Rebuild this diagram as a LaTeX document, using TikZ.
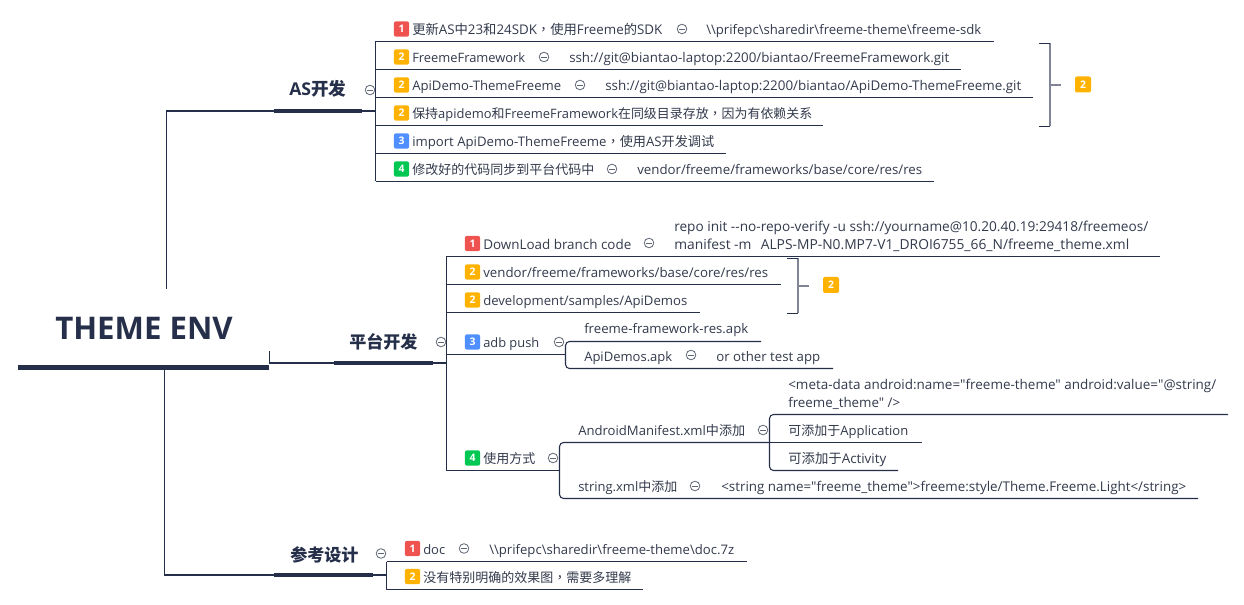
\documentclass[tikz,border=0pt]{standalone}
\usepackage{graphicx}
\usepackage{fontspec}
\newfontfamily\plainfont{Open Sans}
\setmainfont{Open Sans}
\newfontfamily\cjkfont{Noto Sans CJK SC}
\newfontfamily\cjkcomma{Noto Sans CJK TC}
\newcommand{\Z}[1]{{\cjkfont #1}}
\newcommand{\Cm}{{\cjkcomma ，}}
\newcommand{\fw}[2]{\resizebox{\dimexpr#1pt*3/4\relax}{!}{#2}}
\definecolor{ink}{HTML}{252F4A}
\definecolor{txtc}{HTML}{333A4C}
\definecolor{iconc}{HTML}{5F6675}
\definecolor{brk}{HTML}{7F8596}
\definecolor{bred}{HTML}{EF5350}
\definecolor{bora}{HTML}{FFB300}
\definecolor{bblu}{HTML}{4F8FFF}
\definecolor{bgre}{HTML}{00C853}
\tikzset{
  x=0.75pt,y=-0.75pt,
  conn/.style={draw=ink,line width=0.8pt},
  roundconn/.style={conn,rounded corners=3pt},
  brkline/.style={draw=brk,line width=1.5pt},
  bar/.style={draw=none,fill=ink,inner sep=0pt,minimum height=3pt},
  item/.style={anchor=base west,inner sep=0pt,yshift=-0.75pt,text=txtc,font=\plainfont\fontsize{9.6pt}{11pt}\selectfont},
  branch/.style={anchor=base west,inner sep=0pt,yshift=-0.75pt,text=ink,font=\fontsize{12.8pt}{14pt}\selectfont\bfseries},
  rootlabel/.style={anchor=base west,inner sep=0pt,text=ink,font=\fontsize{23.4pt}{25pt}\selectfont\bfseries},
  badgebox/.style={inner sep=0pt,minimum size=11.4pt,rounded corners=1.5pt,text=white,font=\fontsize{7.8pt}{8pt}\selectfont\bfseries},
  bigbadge/.style={badgebox,minimum size=12pt},
  collapse/.style={circle,draw=iconc,line width=0.6pt,inner sep=0pt,minimum size=7.2pt,
    path picture={\draw[iconc,line width=0.6pt] ([xshift=1.6pt]path picture bounding box.west)--([xshift=-1.6pt]path picture bounding box.east);}}
}
\newcommand{\rowline}[4]{\coordinate (#1l) at (#2,#4);\coordinate (#1r) at (#3,#4);\draw[conn] (#1l)--(#1r);}
\newcommand{\brkt}[5]{% name, x left, x right, y top, y bottom; tick to x right + 11
  \coordinate (#1a) at (#2,#4);\coordinate (#1b) at (#3,#4);\coordinate (#1c) at (#3,#5);\coordinate (#1d) at (#2,#5);
  \coordinate (#1m) at (#3,{(#4+#5)/2});\coordinate (#1t) at ({#3+11},{(#4+#5)/2});
  \draw[brkline] (#1b)--(#1c);\draw[brkline] (#1m)--(#1t);\draw[conn] (#1a)--(#1b);\draw[conn] (#1c)--(#1d);}
\begin{document}
\begin{tikzpicture}
\useasboundingbox[fill=white] (0,0) rectangle (1244,605);
% root
\node[rootlabel] (root) at (55,339.5) {THEME ENV};
\node[bar,minimum width=188.25pt,minimum height=3.75pt] (rootbar) at (143.5,367.5) {};
% branch bars
\node[bar,minimum width=66pt] (asbar) at (318,111) {};
\node[bar,minimum width=74.25pt] (ptbar) at (383.5,363) {};
\node[bar,minimum width=74.25pt] (ckbar) at (323.5,575) {};
\node[branch] (aslabel) at (289,95) {\fw{57}{AS\Z{开发}}};
\node[branch] (ptlabel) at (349,348) {\Z{平台开发}};
\node[branch] (cklabel) at (290,560) {\Z{参考设计}};
% root connectors
\coordinate (r1) at (166.5,289);
\draw[conn] (r1)|-(asbar.west);
\coordinate (r2) at (269.5,351);
\draw[conn] (r2)|-(ptbar.west);
\coordinate (r3) at (164.5,370);
\draw[conn] (r3)|-(ckbar.west);
% AS spine
\coordinate (asj) at (375.5,111);
\draw[conn] (asbar.east)--(asj);
\rowline{a1}{375.5}{994}{41.5}
\rowline{a2}{375.5}{961}{69.5}
\rowline{a3}{375.5}{1033}{97.5}
\rowline{a4}{375.5}{823}{125.5}
\rowline{a5}{375.5}{726}{153.5}
\rowline{a6}{375.5}{934}{181.5}
\draw[conn] (a1l)--(a6l);
\node[collapse] (asc) at (370,90) {};
\node[badgebox,fill=bred] (ab1) at (401.5,29) {1};
\node[item] (at1) at (412,34) {\fw{250}{\Z{更新}AS\Z{中}23\Z{和}24SDK\Cm\Z{使用}Freeme\Z{的}SDK}};
\node[collapse] (ac1) at (682,29) {};
\node[item] (at1b) at (706,34) {\fw{275}{\textbackslash\textbackslash prifepc\textbackslash sharedir\textbackslash freeme-theme\textbackslash freeme-sdk}};
\node[badgebox,fill=bora] (ab2) at (401.5,57) {2};
\node[item] (at2) at (412,62) {\fw{113}{FreemeFramework}};
\node[collapse] (ac2) at (544,57) {};
\node[item] (at2b) at (569,62) {\fw{380}{ssh://git@biantao-laptop:2200/biantao/FreemeFramework.git}};
\node[badgebox,fill=bora] (ab3) at (401.5,85) {2};
\node[item] (at3) at (412,90) {\fw{149}{ApiDemo-ThemeFreeme}};
\node[collapse] (ac3) at (580,85) {};
\node[item] (at3b) at (605,90) {\fw{416}{ssh://git@biantao-laptop:2200/biantao/ApiDemo-ThemeFreeme.git}};
\node[badgebox,fill=bora] (ab4) at (401.5,113) {2};
\node[item] (at4) at (412,118) {\fw{400}{\Z{保持}apidemo\Z{和}FreemeFramework\Z{在同级目录存放}\Cm\Z{因为有依赖关系}}};
\node[badgebox,fill=bblu] (ab5) at (401.5,141) {3};
\node[item] (at5) at (412,146) {\fw{302}{import ApiDemo-ThemeFreeme\Cm\Z{使用}AS\Z{开发调试}}};
\node[badgebox,fill=bgre] (ab6) at (401.5,169) {4};
\node[item] (at6) at (412,174) {\fw{182}{\Z{修改好的代码同步到平台代码中}}};
\node[collapse] (ac6) at (612,169) {};
\node[item] (at6b) at (637,174) {\fw{285}{vendor/freeme/frameworks/base/core/res/res}};
\brkt{ab}{1039}{1050}{43.5}{126.5}
\node[bigbadge,fill=bora] (abr) at (1083,84.5) {2};
% platform spine
\coordinate (ptj) at (446.5,363);
\draw[conn] (ptbar.east)--(ptj);
\rowline{p1}{446.5}{1160}{256.5}
\rowline{p2}{446.5}{781}{284.5}
\rowline{p3}{446.5}{700}{312.5}
\rowline{p4}{446.5}{565.5}{354.5}
\rowline{p5}{446.5}{559.5}{470.5}
\draw[conn] (p1l)--(p5l);
\node[collapse] (ptc) at (441,342) {};
\node[badgebox,fill=bred] (pb1) at (472.5,243.5) {1};
\node[item] (pt1) at (483,249) {\fw{148}{DownLoad branch code}};
\node[collapse] (pc1) at (649,243) {};
\node[item] (pt1a) at (674,231) {\fw{474}{repo init --no-repo-verify -u ssh://yourname@10.20.40.19:29418/freemeos/}};
\node[item] (pt1b) at (674,249) {\fw{455}{manifest -m\hspace{6.5pt}ALPS-MP-N0.MP7-V1\_DROI6755\_66\_N/freeme\_theme.xml}};
\node[badgebox,fill=bora] (pb2) at (472.5,272) {2};
\node[item] (pt2) at (483,277) {\fw{285}{vendor/freeme/frameworks/base/core/res/res}};
\node[badgebox,fill=bora] (pb3) at (472.5,300) {2};
\node[item] (pt3) at (483,305) {\fw{204}{development/samples/ApiDemos}};
\brkt{pb}{787}{798}{258.5}{313.5}
\node[bigbadge,fill=bora] (pbr) at (831,285) {2};
\node[badgebox,fill=bblu] (pb4) at (472.5,342) {3};
\node[item] (pt4) at (483,347) {\fw{56}{adb push}};
\node[collapse] (pc4) at (559,342) {};
\coordinate (adbtop) at (761,341.5);
\coordinate (adbbot) at (833,368.5);
\draw[roundconn] (adbtop)-|(565.5,368.5)--(adbbot);
\node[item] (pt4a) at (584,333) {\fw{164}{freeme-framework-res.apk}};
\node[item] (pt4b) at (584,361) {\fw{88}{ApiDemos.apk}};
\node[collapse] (pc4b) at (691,355) {};
\node[item] (pt4c) at (716,361) {\fw{104}{or other test app}};
\node[badgebox,fill=bgre] (pb5) at (472.5,458) {4};
\node[item] (pt5) at (483,462) {\fw{52}{\Z{使用方式}}};
\node[collapse] (pc5) at (553,458) {};
\coordinate (ustop) at (769.5,442.5);
\coordinate (usbot) at (1198,498.5);
\draw[roundconn] (ustop)-|(559.5,498.5)--(usbot);
\node[item] (pt6) at (578,434) {\fw{167}{AndroidManifest.xml\Z{中添加}}};
\node[collapse] (pc6) at (763,430) {};
\coordinate (mftop) at (1228,414.5);
\coordinate (mfbot) at (898,470.5);
\draw[roundconn] (mftop)-|(769.5,470.5)--(mfbot);
\rowline{m2}{769.5}{922}{442.5}
\node[item] (pt6a) at (788,388) {\fw{428}{<meta-data android:name="freeme-theme" android:value="@string/}};
\node[item] (pt6b) at (788,406) {\fw{112}{freeme\_theme" />}};
\node[item] (pt6c) at (788,434) {\fw{120}{\Z{可添加于}Application}};
\node[item] (pt6d) at (788,462) {\fw{98}{\Z{可添加于}Activity}};
\node[item] (pt7) at (578,490) {\fw{99}{string.xml\Z{中添加}}};
\node[collapse] (pc7) at (695,486) {};
\node[item] (pt7b) at (721,490) {\fw{465}{<string name="freeme\_theme">freeme:style/Theme.Freeme.Light</string>}};
% reference design
\coordinate (ckj) at (386.5,575);
\draw[conn] (ckbar.east)--(ckj);
\rowline{c1}{386.5}{747}{561.5}
\rowline{c2}{386.5}{643}{589.5}
\draw[conn] (c1l)--(c2l);
\node[collapse] (ckc) at (381,553.5) {};
\node[badgebox,fill=bred] (cb1) at (412.5,548.5) {1};
\node[item] (ct1) at (423,553) {\fw{22}{doc}};
\node[collapse] (cc1) at (464,548.5) {};
\node[item] (ct1b) at (489,553) {\fw{245}{\textbackslash\textbackslash prifepc\textbackslash sharedir\textbackslash freeme-theme\textbackslash doc.7z}};
\node[badgebox,fill=bora] (cb2) at (412.5,576.5) {2};
\node[item] (ct2) at (423,581) {\fw{208}{\Z{没有特别明确的效果图}\Cm\Z{需要多理解}}};
\end{tikzpicture}
\end{document}
